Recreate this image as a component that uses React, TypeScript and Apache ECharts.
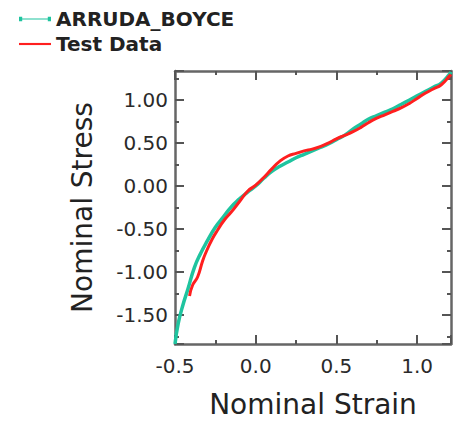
import React, { useEffect, useRef } from "react";
import * as echarts from "echarts";

const modelStrain = [-0.5, -0.48, -0.45, -0.42, -0.38, -0.34, -0.30, -0.25, -0.20, -0.15, -0.10, -0.05, 0.0, 0.05, 0.10, 0.15, 0.20, 0.25, 0.30, 0.35, 0.40, 0.45, 0.50, 0.55, 0.60, 0.65, 0.70, 0.75, 0.80, 0.85, 0.90, 0.95, 1.00, 1.05, 1.10, 1.15, 1.20, 1.21];
const modelStress = [-1.84, -1.60, -1.38, -1.20, -0.95, -0.78, -0.64, -0.48, -0.36, -0.24, -0.15, -0.07, 0.0, 0.09, 0.17, 0.23, 0.28, 0.33, 0.37, 0.41, 0.45, 0.49, 0.54, 0.59, 0.66, 0.72, 0.78, 0.82, 0.86, 0.90, 0.95, 1.00, 1.05, 1.10, 1.15, 1.20, 1.30, 1.33];

const testStrain = [-0.41, -0.39, -0.36, -0.33, -0.31, -0.27, -0.235, -0.20, -0.15, -0.10, -0.05, 0.0, 0.05, 0.10, 0.15, 0.20, 0.25, 0.30, 0.35, 0.40, 0.45, 0.50, 0.55, 0.60, 0.65, 0.70, 0.75, 0.80, 0.85, 0.90, 0.95, 1.00, 1.05, 1.10, 1.15, 1.20, 1.21];
const testStress = [-1.28, -1.15, -1.06, -0.88, -0.78, -0.62, -0.51, -0.41, -0.30, -0.18, -0.06, 0.01, 0.10, 0.20, 0.29, 0.35, 0.38, 0.41, 0.43, 0.46, 0.50, 0.55, 0.59, 0.63, 0.68, 0.74, 0.79, 0.83, 0.87, 0.91, 0.96, 1.02, 1.08, 1.13, 1.18, 1.28, 1.30];

const xTickLabels = ["-0.5", "0.0", "0.5", "1.0"];
const yTickLabels = ["-1.50", "-1.00", "-0.50", "0.00", "0.50", "1.00"];

const X_MIN = -0.5, X_MAX = 1.21, Y_MIN = -1.84, Y_MAX = 1.34;
const FONT = "DejaVu Sans";
const AXIS_COLOR = "#666666";

function fmt(labels: string[], digits: number) {
  return (v: number) => {
    const s = v.toFixed(digits);
    return labels.includes(s) ? s : "";
  };
}

export default function App() {
  const ref = useRef<HTMLDivElement>(null);
  useEffect(() => {
    const chart = echarts.init(ref.current!, null, { renderer: "svg" });
    const axisBase = {
      type: "value" as const,
      minInterval: 0.5,
      maxInterval: 0.5,
      splitNumber: 6,
      splitLine: { show: false },
      axisLine: { show: true, onZero: false, lineStyle: { color: AXIS_COLOR, width: 2.5 } },
      axisTick: { show: true, inside: true, length: 9, lineStyle: { color: "#555", width: 2 } },
      minorTick: { show: true, splitNumber: 2, length: 4, lineStyle: { color: "#555", width: 2 } },
      minorSplitLine: { show: false },
    };
    chart.setOption({
      animation: false,
      legend: {
        orient: "vertical",
        left: 14,
        top: 4,
        itemWidth: 32,
        itemHeight: 6,
        itemGap: 5,
        textStyle: { fontFamily: FONT, fontWeight: "bold", fontSize: 20, color: "#222", lineHeight: 20 },
        data: [
          { name: "ARRUDA_BOYCE", icon: "path://M0,0 H3 V1.6 H27 V0 H30 V4 H27 V2.4 H3 V4 H0 Z" },
          { name: "Test Data", icon: "path://M0,1 H30 V3 H0 Z" },
        ],
      },
      grid: { left: 175, top: 71, right: 1, bottom: 73 },
      xAxis: [
        {
          ...axisBase,
          min: X_MIN,
          max: X_MAX,
          position: "bottom",
          axisLabel: { formatter: fmt(xTickLabels, 1), fontFamily: FONT, fontSize: 20, color: "#2a2a2a", margin: 12 },
          name: "Nominal Strain",
          nameLocation: "middle",
          nameGap: 46,
          nameTextStyle: { fontFamily: FONT, fontSize: 28, color: "#222" },
        },
        {
          ...axisBase,
          min: X_MIN,
          max: X_MAX,
          position: "top",
          axisLabel: { show: false },
        },
      ],
      yAxis: [
        {
          ...axisBase,
          min: Y_MIN,
          max: Y_MAX,
          position: "left",
          axisLabel: { formatter: fmt(yTickLabels, 2), fontFamily: FONT, fontSize: 20, color: "#2a2a2a", margin: 7 },
          name: "Nominal Stress",
          nameLocation: "middle",
          nameGap: 79,
          nameTextStyle: { fontFamily: FONT, fontSize: 28, color: "#222" },
        },
        {
          ...axisBase,
          min: Y_MIN,
          max: Y_MAX,
          position: "right",
          axisLabel: { show: false },
        },
      ],
      series: [
        {
          name: "ARRUDA_BOYCE",
          type: "line",
          symbol: "none",
          smooth: true,
          color: "#1fc49f",
          lineStyle: { width: 3.5, color: "#1fc49f" },
          data: modelStrain.map((x, i) => [x, modelStress[i]]),
          z: 2,
        },
        {
          name: "Test Data",
          type: "line",
          symbol: "none",
          smooth: true,
          color: "#ff1f1f",
          lineStyle: { width: 3, color: "#ff1f1f" },
          data: testStrain.map((x, i) => [x, testStress[i]]),
          z: 3,
        },
      ],
    });
    return () => chart.dispose();
  }, []);
  return <div ref={ref} style={{ width: 454, height: 423, position: "absolute", left: 0, top: 0 }} />;
}
